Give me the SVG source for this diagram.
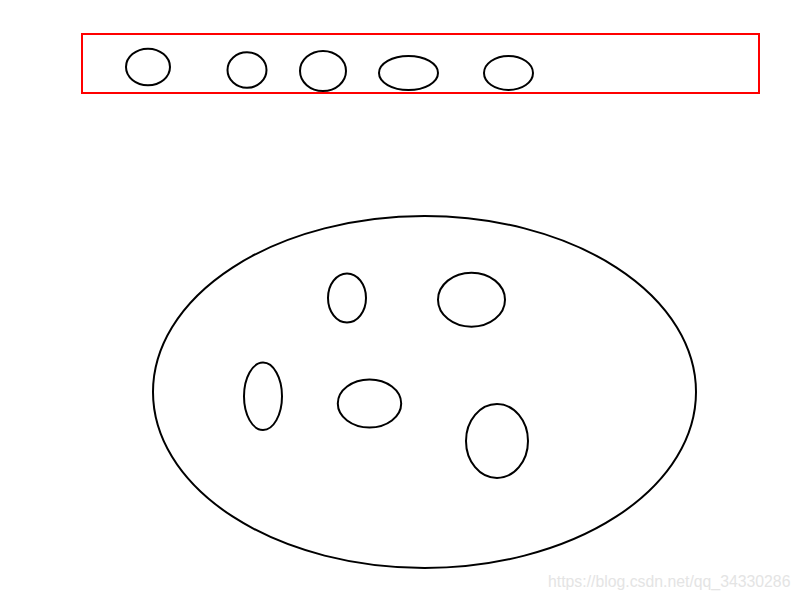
<svg xmlns="http://www.w3.org/2000/svg" width="800" height="600" viewBox="0 0 800 600">
<style>
.e{fill:none;stroke:#000;stroke-width:2}
.wm{font-family:"Liberation Sans",Arial,sans-serif;font-size:15.8px;fill:#e4e4e4}
</style>
<rect width="800" height="600" fill="#fff"/>
<g id="bar">
<rect x="82" y="34" width="677" height="59" fill="none" stroke="#f00" stroke-width="2"/>
</g>
<g id="top-ellipses">
<ellipse class="e" cx="148" cy="67" rx="22" ry="18.3"/>
<ellipse class="e" cx="247" cy="70" rx="19.5" ry="17.8"/>
<ellipse class="e" cx="323" cy="71" rx="23" ry="20"/>
<ellipse class="e" cx="408.5" cy="73" rx="29.5" ry="17"/>
<ellipse class="e" cx="508.5" cy="73" rx="24.5" ry="17"/>
</g>
<g id="big">
<ellipse class="e" cx="424.5" cy="392" rx="271.5" ry="176"/>
</g>
<g id="inner-ellipses">
<ellipse class="e" cx="347" cy="298" rx="19" ry="24.5"/>
<ellipse class="e" cx="471.5" cy="299.7" rx="33.5" ry="27"/>
<ellipse class="e" cx="263" cy="396.3" rx="19" ry="33.7"/>
<ellipse class="e" cx="369.5" cy="403.5" rx="31.7" ry="24"/>
<ellipse class="e" cx="497" cy="441" rx="31" ry="37"/>
</g>
<text class="wm" x="548" y="587">https://blog.csdn.net/qq_34330286</text>
</svg>
